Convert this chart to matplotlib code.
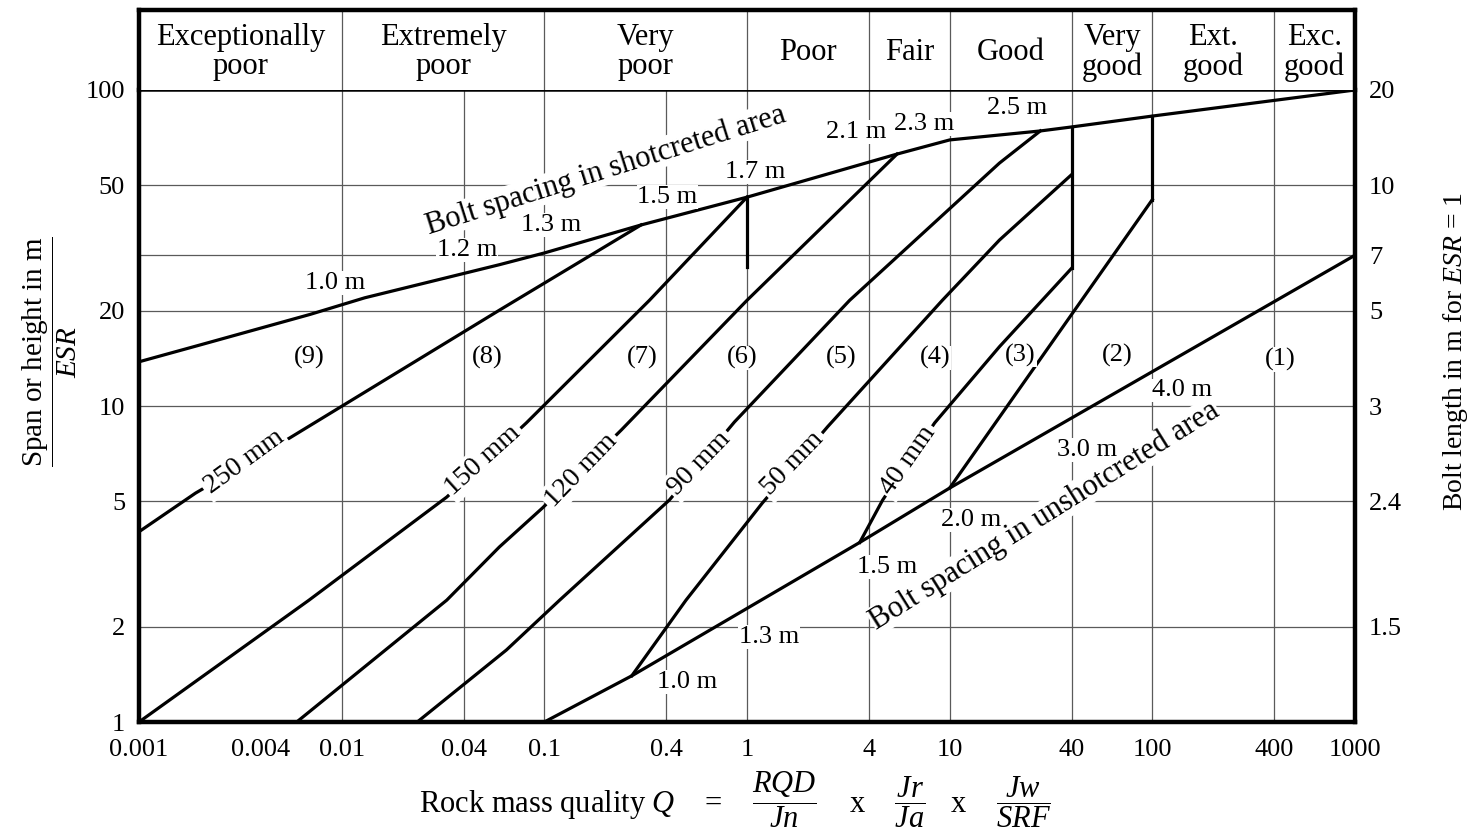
import matplotlib.pyplot as plt

plt.rcParams['font.family'] = ['Liberation Serif', 'DejaVu Serif']
plt.rcParams['mathtext.fontset'] = 'custom'
plt.rcParams['mathtext.rm'] = 'Liberation Serif'
plt.rcParams['mathtext.it'] = 'Liberation Serif:italic'
plt.rcParams['mathtext.bf'] = 'Liberation Serif:bold'

# axes ticks
q_ticks = [0.001, 0.004, 0.01, 0.04, 0.1, 0.4, 1, 4, 10, 40, 100, 400, 1000]
q_tick_labels = ['0.001', '0.004', '0.01', '0.04', '0.1', '0.4', '1', '4', '10', '40', '100', '400', '1000']
span_ticks = [1, 2, 5, 10, 20, 50, 100]
bolt_pos = [100, 50, 30, 20, 10, 5, 2]
bolt_labels = ['20', '10', '7', '5', '3', '2.4', '1.5']
q_grid = [0.01, 0.04, 0.1, 0.4, 1, 4, 10, 40, 100, 400]
span_grid = [2, 5, 10, 20, 30, 50]

# rock mass classes (header)
class_edges = [0.001, 0.01, 0.1, 1, 4, 10, 40, 100, 400, 1000]
class_names = ['Exceptionally\npoor', 'Extremely\npoor', 'Very\npoor', 'Poor', 'Fair',
               'Good', 'Very\ngood', 'Ext.\ngood', 'Exc.\ngood']

# bolt spacing curves
shot_q = [0.001, 0.002, 0.007, 0.013, 0.06, 0.1, 0.3, 1, 5.5, 10, 28, 40, 100, 1000]
shot_s = [13.8, 15.6, 19.5, 22, 28, 30.5, 37.4, 45.8, 62.7, 69.5, 74.2, 76.4, 82.7, 100]
unshot_q = [0.1, 0.27, 3.6, 10, 1000]
unshot_s = [1, 1.4, 3.7, 5.5, 30]

# support category boundaries (shotcrete thickness)
l250_q = [0.001, 0.0019, 0.0055, 0.06, 0.3]
l250_s = [4.0, 5.3, 7.9, 20.1, 37.4]
l150_q = [0.001, 0.0069, 0.033, 0.0815, 0.33, 1.0]
l150_s = [1, 2.43, 5.15, 8.84, 21.6, 45.8]
l120_q = [0.006, 0.033, 0.06, 0.098, 0.24, 1.0, 5.5]
l120_s = [1, 2.43, 3.58, 4.76, 8.4, 21.6, 62.7]
l90_q = [0.0236, 0.065, 0.119, 0.414, 0.867, 3.21, 17.6, 28]
l90_s = [1, 1.69, 2.43, 5.04, 8.9, 21.6, 58.7, 74.2]
l50_q = [0.27, 0.5, 1.19, 2.5, 9.2, 17.6, 40]
l50_s = [1.4, 2.43, 4.93, 8.6, 21.6, 33.5, 54]
l40_q = [3.6, 4.67, 8.43, 17.6, 40]
l40_s = [3.7, 5.04, 8.84, 15.4, 27.3]
l32_q = [10, 100]
l32_s = [5.5, 45]
v1_q, v1_s = [1, 1], [27.5, 45.8]
v40_q, v40_s = [40, 40], [27.3, 76.4]
v100_q, v100_s = [100, 100], [45, 82.7]

# labels
cat_labels = ['(9)', '(8)', '(7)', '(6)', '(5)', '(4)', '(3)', '(2)', '(1)']
cat_q = [0.0069, 0.052, 0.305, 0.95, 2.93, 8.5, 22.4, 67, 426]
cat_s = [14.2, 14.2, 14.2, 14.2, 14.2, 14.2, 14.5, 14.5, 14.0]

shot_lab = ['1.0 m', '1.2 m', '1.3 m', '1.5 m', '1.7 m', '2.1 m', '2.3 m', '2.5 m']
shot_lab_q = [0.0093, 0.0417, 0.108, 0.405, 1.10, 3.47, 7.44, 21.4]
shot_lab_s = [24.5, 31.2, 37.4, 45.8, 55, 73.6, 78, 87.7]

unshot_lab = ['1.0 m', '1.3 m', '1.5 m', '2.0 m', '3.0 m', '4.0 m']
unshot_lab_q = [0.508, 1.29, 4.94, 12.8, 47.5, 140]
unshot_lab_s = [1.34, 1.86, 3.09, 4.36, 7.26, 11.2]

thick_lab = ['250 mm', '150 mm', '120 mm', '90 mm', '50 mm', '40 mm']
thick_q = [0.0033, 0.05, 0.152, 0.582, 1.68, 6.2]
thick_s = [6.65, 6.75, 6.27, 6.6, 6.6, 6.75]
thick_rot = [36, 42, 46, 46, 46, 55]

fig = plt.figure(figsize=(14.8, 8.38), dpi=100)
ax = fig.add_axes([139/1480, 116/838, 1216/1480, 632/838])
hax = fig.add_axes([139/1480, 748/838, 1216/1480, 80/838])

ax.set_xscale('log')
ax.set_yscale('log')
ax.set_xlim(0.001, 1000)
ax.set_ylim(1, 100)
ax.minorticks_off()
ax.set_xticks(q_ticks, q_tick_labels)
ax.set_yticks(span_ticks, [str(v) for v in span_ticks])
ax.tick_params(length=0, labelsize=19, pad=12)
ax.tick_params(axis='y', pad=10)
for s in ['left', 'bottom', 'right']:
    ax.spines[s].set_linewidth(3.2)
ax.spines['top'].set_linewidth(1.8)

ax2 = ax.twinx()
ax2.set_yscale('log')
ax2.set_ylim(1, 100)
ax2.minorticks_off()
ax2.set_yticks(bolt_pos, bolt_labels)
ax2.tick_params(length=0, labelsize=19, pad=10)
for s in ax2.spines.values():
    s.set_visible(False)

# grid
gcol = '#5a5a5a'
for q in q_grid:
    ax.axvline(q, color=gcol, lw=0.9, zorder=1)
for sp in span_grid:
    ax.axhline(sp, color=gcol, lw=0.9, zorder=1)

# curves
lines = [(shot_q, shot_s), (unshot_q, unshot_s), (l250_q, l250_s), (l150_q, l150_s),
         (l120_q, l120_s), (l90_q, l90_s), (l50_q, l50_s), (l40_q, l40_s),
         (l32_q, l32_s), (v1_q, v1_s), (v40_q, v40_s), (v100_q, v100_s)]
for xs, ys in lines:
    ax.plot(xs, ys, color='black', lw=2.3, zorder=3, solid_joinstyle='miter')

box = dict(facecolor='white', edgecolor='none', pad=0.5)
for t, q, s in zip(cat_labels, cat_q, cat_s):
    ax.text(q, s, t, ha='center', va='center', fontsize=19, zorder=5, bbox=box)
for t, q, s in zip(shot_lab, shot_lab_q, shot_lab_s):
    ax.text(q, s, t, ha='center', va='center', fontsize=19, zorder=5, bbox=box)
for t, q, s in zip(unshot_lab, unshot_lab_q, unshot_lab_s):
    ax.text(q, s, t, ha='center', va='center', fontsize=19, zorder=5, bbox=box)
for t, q, s, r in zip(thick_lab, thick_q, thick_s, thick_rot):
    ax.text(q, s, t, ha='center', va='center', fontsize=20, rotation=r,
            rotation_mode='anchor', zorder=5, bbox=dict(facecolor='white', edgecolor='none', pad=2))

ax.text(0.2, 55.8, 'Bolt spacing in shotcreted area', ha='center', va='center',
        fontsize=22, rotation=17.5, rotation_mode='anchor', zorder=4,
        bbox=dict(facecolor='white', edgecolor='none', pad=0.3))
ax.text(29.4, 4.5, 'Bolt spacing in unshotcreted area', ha='center', va='center',
        fontsize=22, rotation=32, rotation_mode='anchor', zorder=4,
        bbox=dict(facecolor='white', edgecolor='none', pad=0.3))

# header
hax.set_xscale('log')
hax.set_xlim(0.001, 1000)
hax.set_ylim(0, 1)
hax.set_xticks([])
hax.set_yticks([])
hax.minorticks_off()
for s in ['left', 'top', 'right']:
    hax.spines[s].set_linewidth(3.2)
hax.spines['bottom'].set_visible(False)
for e in class_edges[1:-1]:
    hax.axvline(e, color=gcol, lw=0.9)
for i, name in enumerate(class_names):
    xc = (class_edges[i] * class_edges[i + 1]) ** 0.5
    hax.text(xc, 0.47, name, ha='center', va='center', fontsize=22, linespacing=1.0)

# axis titles
fig.text(50/1480, 1 - 352/838, r'$\dfrac{\mathrm{Span\ or\ height\ in\ m}}{ESR}$',
         rotation=90, ha='center', va='center', fontsize=21)
fig.text(1455/1480, 1 - 352/838, r'Bolt length in m for $ESR$ = 1',
         rotation=90, ha='center', va='center', fontsize=20)
fig.text(735/1480, 1 - 800/838,
         r'Rock mass quality $Q$    =    $\dfrac{RQD}{Jn}$    x    $\dfrac{Jr}{Ja}$   x    $\dfrac{Jw}{SRF}$',
         ha='center', va='center', fontsize=22)

fig.savefig('out.png', dpi=100)
